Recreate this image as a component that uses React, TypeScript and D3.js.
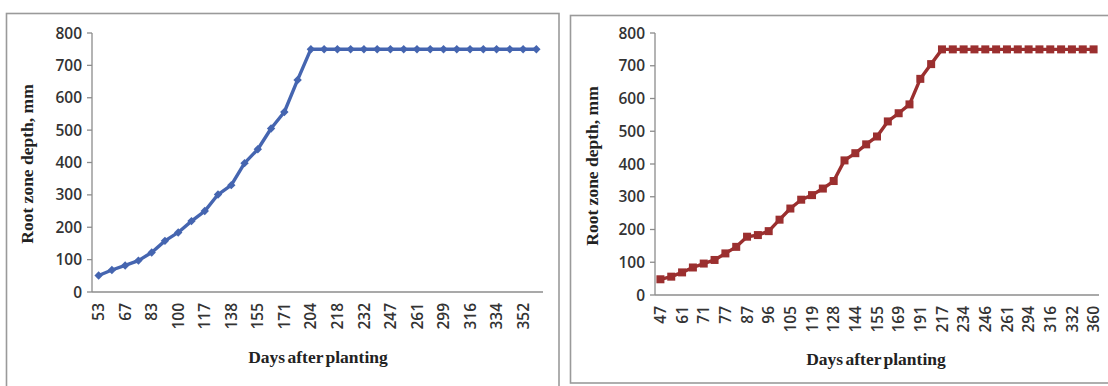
import React from "react";
import * as d3 from "d3";

// ---------- Data ----------
const leftDays: string[] = [
  "53", "60", "67", "75", "83", "91", "100", "108", "117", "126", "138", "146",
  "155", "163", "171", "186", "204", "211", "218", "225", "232", "240", "247", "254",
  "261", "280", "299", "307", "316", "325", "334", "343", "352", "360",
];
const leftDepth: number[] = [
  51, 68, 82, 97, 122, 158, 184, 219, 250, 301, 330, 398, 441, 505, 556, 655, 750,
  750, 750, 750, 750, 750, 750, 750, 750, 750, 750, 750, 750, 750, 750, 750, 750, 750,
];

const rightDays: string[] = [
  "47", "54", "61", "66", "71", "74", "77", "82", "87", "91", "96", "100", "105",
  "112", "119", "124", "128", "136", "144", "150", "155", "162", "169", "180", "191",
  "204", "217", "225", "234", "240", "246", "253", "261", "278", "294", "305", "316",
  "324", "332", "346", "360",
];
const rightDepth: number[] = [
  48, 56, 69, 84, 96, 107, 127, 147, 178, 183, 195, 230, 264, 291, 305, 325, 348,
  411, 433, 460, 484, 530, 555, 582, 660, 705, 750, 750, 750, 750, 750, 750, 750,
  750, 750, 750, 750, 750, 750, 750, 750,
];

const yTicks: number[] = [0, 100, 200, 300, 400, 500, 600, 700, 800];
const yTitle = "Root zone depth, mm";
const xTitle = "Days after planting";

type Panel = {
  days: string[];
  depth: number[];
  color: string;
  marker: "diamond" | "square";
  frame: [number, number, number, number];
  x0: number;
  x1: number;
  y0: number;
  y1: number;
  yTitleX: number;
  yTitleY: number;
  xTitleX: number;
  xTitleY: number;
};

const panels: Panel[] = [
  {
    days: leftDays,
    depth: leftDepth,
    color: "#4565b0",
    marker: "diamond",
    frame: [6.5, 13.5, 559, 400],
    x0: 92,
    x1: 543,
    y0: 292,
    y1: 33,
    yTitleX: 33,
    yTitleY: 164,
    xTitleX: 318,
    xTitleY: 363,
  },
  {
    days: rightDays,
    depth: rightDepth,
    color: "#9b2f2f",
    marker: "square",
    frame: [570.5, 15.5, 1130, 383],
    x0: 655,
    x1: 1099,
    y0: 295,
    y1: 33,
    yTitleX: 598,
    yTitleY: 166,
    xTitleX: 876,
    xTitleY: 365,
  },
];

const tickFont = "'Open Sans', 'Liberation Sans', sans-serif";
const titleFont = "'Liberation Serif', 'DejaVu Serif', serif";

function ChartPanel({ p }: { p: Panel }) {
  const x = d3.scaleBand<string>().domain(p.days).range([p.x0, p.x1]).padding(0);
  const y = d3.scaleLinear().domain([0, 800]).range([p.y0, p.y1]);
  const cx = (d: string) => (x(d) ?? 0) + x.bandwidth() / 2;
  const pts: [number, number][] = p.days.map((d, i) => [cx(d), y(p.depth[i])]);
  const line = d3.line<[number, number]>().x((d) => d[0]).y((d) => d[1]);
  const [fx0, fy0, fx1, fy1] = p.frame;

  return (
    <g>
      <rect x={fx0} y={fy0} width={fx1 - fx0} height={fy1 - fy0} fill="#fff" stroke="#9a9a9a" strokeWidth={1.6} />
      {/* y axis */}
      <line x1={p.x0} x2={p.x0} y1={p.y0} y2={p.y1} stroke="#8c8c8c" strokeWidth={1.3} />
      {yTicks.map((t) => (
        <g key={t}>
          <line x1={p.x0 - 5} x2={p.x0} y1={y(t)} y2={y(t)} stroke="#8c8c8c" strokeWidth={1.3} />
          <text x={p.x0 - 10} y={y(t)} dy="0.36em" textAnchor="end" fontFamily={tickFont} fontSize={15.5} fontWeight={600} fill="#333">
            {t}
          </text>
        </g>
      ))}
      {/* x axis */}
      <line x1={p.x0} x2={p.x1} y1={p.y0} y2={p.y0} stroke="#8c8c8c" strokeWidth={1.3} />
      {p.days.map((d, i) =>
        i % 2 === 0 ? (
          <text
            key={d}
            transform={`translate(${cx(d)},${p.y0 + 11}) rotate(-90)`}
            dy="0.36em"
            textAnchor="end"
            fontFamily={tickFont}
            fontSize={15.5}
            fontWeight={600}
            fill="#333"
          >
            {d}
          </text>
        ) : null
      )}
      {/* series */}
      <path d={line(pts) ?? ""} fill="none" stroke={p.color} strokeWidth={3.4} strokeLinejoin="round" />
      {pts.map(([px, py], i) =>
        p.marker === "diamond" ? (
          <path key={i} d={`M${px},${py - 4.2}L${px + 4.2},${py}L${px},${py + 4.2}L${px - 4.2},${py}Z`} fill={p.color} />
        ) : (
          <rect key={i} x={px - 4} y={py - 4} width={8} height={8} fill={p.color} />
        )
      )}
      {/* titles */}
      <text
        transform={`translate(${p.yTitleX},${p.yTitleY}) rotate(-90)`}
        textAnchor="middle"
        fontFamily={titleFont}
        fontSize={17.5}
        fontWeight="bold"
        fill="#222"
      >
        {yTitle}
      </text>
      <text x={p.xTitleX} y={p.xTitleY} textAnchor="middle" fontFamily={titleFont} fontSize={17.5} fontWeight="bold" fill="#222" wordSpacing={-2}>
        {xTitle}
      </text>
    </g>
  );
}

export default function App() {
  return (
    <svg
      width={1108}
      height={386}
      viewBox="0 0 1108 386"
      style={{ position: "absolute", left: 0, top: 0, background: "#fff" }}
    >
      <rect x={0} y={0} width={1108} height={386} fill="#fff" />
      {panels.map((p, i) => (
        <ChartPanel key={i} p={p} />
      ))}
    </svg>
  );
}
